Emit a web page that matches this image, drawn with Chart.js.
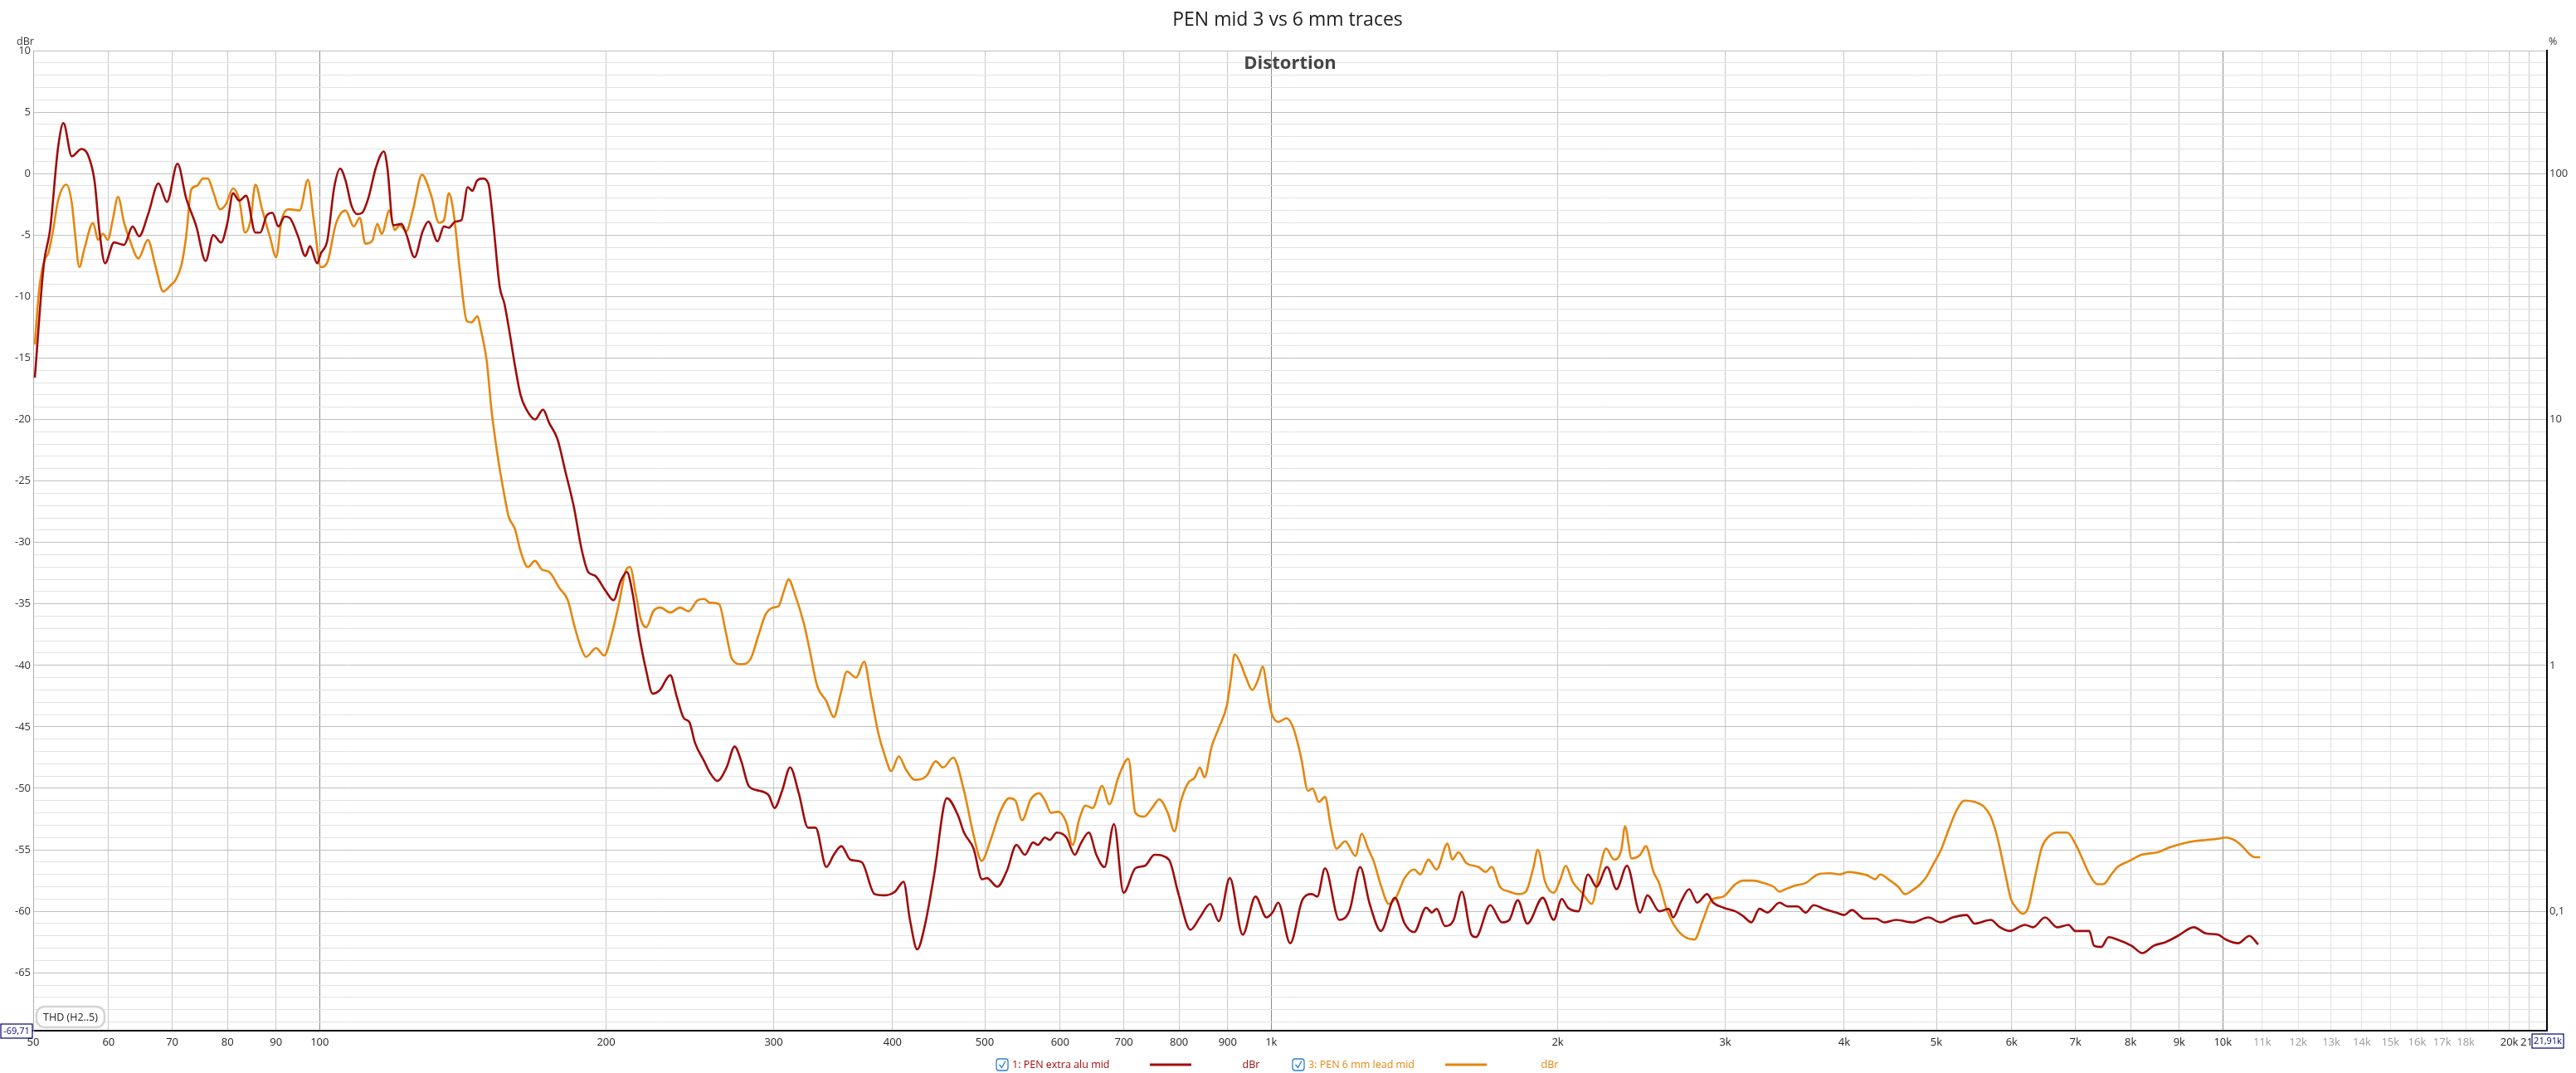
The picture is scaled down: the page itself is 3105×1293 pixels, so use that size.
<!DOCTYPE html>
<html>
<head>
<meta charset="utf-8">
<title>PEN mid 3 vs 6 mm traces</title>
<script src="https://cdn.jsdelivr.net/npm/chart.js@4.4.1/dist/chart.umd.min.js"></script>
<style>
  html, body { margin: 0; padding: 0; background: #fff; }
  #wrap { width: 3105px; height: 1293px; position: relative; }
</style>
</head>
<body>
<div id="wrap"><canvas id="chart" width="3105" height="1293"></canvas></div>
<script>
// series 1: PEN extra alu mid (dBr)
const freqs1 = [50.2,51.3,52.1,53.1,53.8,54.9,56.2,57.1,58.0,58.7,59.5,60.8,62.3,63.6,64.6,66.1,67.7,69.1,70.9,72.4,
  74.2,75.9,77.3,78.8,80.0,81.1,82.3,83.7,85.6,86.6,88.0,89.2,90.5,91.9,93.0,94.9,96.6,97.7,99.4,100.3,
  101.9,103.6,105.1,106.5,108.0,109.5,110.8,112.5,114.6,116.8,117.8,119.5,121.9,123.3,125.8,128.3,130.1,133.0,135.1,136.7,
  138.9,140.9,143.1,144.7,146.3,148.3,150.4,152.2,154.6,156.4,158.4,160.4,162.6,164.7,168.4,171.7,174.3,177.8,181.2,185.1,
  188.3,191.5,194.7,200,203.6,207.3,210.3,213.2,216.6,220.2,223.9,227.8,233.6,237.2,241.4,244.6,248.0,253.6,257.0,261.8,
  267.7,273.0,277.4,282.4,290.0,296.6,300.6,306.2,312.2,318.8,326.0,332.0,340.8,347.0,353.4,361.2,371.2,383.0,391.6,402.4,
  410.8,417.2,424.6,432.4,442.2,456.2,468.6,475.5,486.6,496.8,502.6,515.5,527.5,539.8,551.1,562.0,568.5,578.4,585.1,595.3,
  609.2,621.9,630.6,643.1,655.0,668.0,683.6,699.5,719.9,736.7,753.9,780.6,799.0,822.3,841.4,862.7,880.8,904.7,933.3,962.7,
  988.6,1003,1017,1047,1078,1103,1118,1139,1179,1209,1240,1269,1304,1349,1381,1413,1455,1475,1492,1523,
  1555,1586,1623,1641,1699,1748,1779,1816,1858,1929,1981,2020,2050,2103,2152,2197,2254,2306,2365,2442,
  2485,2558,2617,2644,2696,2749,2803,2871,2914,2986,3074,3134,3196,3259,3323,3421,3488,3574,3644,3716,
  3809,3922,3999,4077,4198,4322,4407,4537,4718,4905,5050,5200,5379,5484,5703,5832,5970,6196,6318,6505,
  6698,6883,6998,7238,7323,7453,7586,7750,8017,8233,8459,8710,8968,9324,9599,9884,10078,10378,10664,10894];
const dbr1 = [-16.6,-7.4,-4.5,2.1,4.1,1.4,2.0,1.5,-0.6,-4.7,-7.3,-5.6,-5.8,-4.3,-5.1,-3.2,-0.8,-2.3,0.8,-2.0,
  -4.3,-7.1,-5.0,-5.6,-4.0,-1.6,-2.2,-1.8,-4.8,-4.8,-3.4,-3.2,-4.3,-3.5,-3.6,-5.1,-6.7,-5.9,-7.3,-6.5,
  -5.4,-1.1,0.4,-0.6,-2.6,-3.3,-3.2,-2.0,0.5,1.8,0.5,-4.2,-4.1,-4.9,-6.8,-4.7,-3.9,-5.5,-4.3,-4.4,
  -3.9,-3.8,-1.1,-1.4,-0.6,-0.4,-0.8,-4.0,-9.2,-10.6,-13.0,-15.6,-18.0,-19.1,-20.0,-19.2,-20.3,-21.6,-24.2,-27.2,
  -30.4,-32.4,-32.7,-34.0,-34.7,-33.1,-32.4,-34.1,-37.5,-40.3,-42.3,-42.0,-40.8,-42.5,-44.3,-44.6,-46.3,-47.8,-48.7,-49.4,
  -48.3,-46.6,-47.8,-49.8,-50.2,-50.6,-51.6,-50.2,-48.3,-50.4,-53.2,-53.2,-56.4,-55.4,-54.7,-55.8,-56.0,-58.6,-58.7,-58.4,
  -57.6,-60.7,-63.1,-61.2,-57.1,-50.8,-52.2,-53.6,-54.9,-57.4,-57.3,-58.0,-56.7,-54.6,-55.4,-54.4,-54.6,-54.0,-54.2,-53.6,
  -54.0,-55.4,-54.5,-53.6,-55.4,-56.4,-52.9,-58.5,-56.5,-56.3,-55.4,-55.8,-58.6,-61.5,-60.5,-59.4,-60.8,-57.3,-61.9,-58.8,
  -60.5,-60.1,-59.3,-62.6,-59.1,-58.6,-58.8,-56.5,-60.7,-59.9,-56.4,-59.4,-61.6,-58.9,-61.0,-61.7,-59.7,-60.1,-59.8,-61.2,
  -60.7,-58.4,-61.9,-62.1,-59.5,-60.9,-60.7,-59.1,-61.0,-58.9,-60.7,-59.0,-59.7,-60.0,-57.0,-58.0,-56.4,-58.2,-56.3,-60.1,
  -58.7,-60.0,-59.8,-60.5,-59.2,-58.2,-59.3,-58.6,-59.3,-59.7,-60.0,-60.4,-60.9,-59.8,-60.1,-59.3,-59.6,-59.6,-60.1,-59.5,
  -59.8,-60.1,-60.3,-59.9,-60.6,-60.6,-60.9,-60.7,-60.9,-60.5,-60.9,-60.5,-60.3,-61.0,-60.7,-61.3,-61.6,-61.1,-61.3,-60.5,
  -61.3,-61.1,-61.6,-61.6,-62.8,-62.9,-62.1,-62.3,-62.8,-63.4,-62.8,-62.5,-62.0,-61.3,-61.8,-61.9,-62.3,-62.6,-62.0,-62.7];

// series 3: PEN 6 mm lead mid (dBr)
const freqs2 = [50.2,50.7,51.3,51.9,52.5,53.1,54.2,54.9,55.3,55.9,56.6,57.8,58.5,59.2,59.9,60.6,61.4,62.3,63.3,64.5,
  66.0,67.2,68.5,69.7,70.5,71.6,72.4,73.3,74.3,75.4,76.3,77.3,78.6,79.7,81.1,82.3,83.5,84.6,85.6,87.0,
  88.7,90.0,91.2,92.7,95.3,97.2,98.6,100.3,101.9,104.0,106.5,108.6,110.2,111.7,113.5,115.0,116.2,118.4,119.9,121.4,
  123.3,125.3,128.1,130.9,133.5,135.1,136.7,138.4,140.4,142.8,144.4,146.5,147.8,149.8,151.6,153.8,155.8,158.0,160.4,162.6,
  165.5,168.4,171.2,174.3,178.6,182.3,185.1,188.3,190.5,195.2,199.1,202.7,206.4,209.7,212.0,214.8,217.6,220.4,224.2,228.0,
  233.6,239.2,244.2,249.6,253.6,257.0,262.8,267.2,271.3,277.4,283.6,288.8,294.0,299.4,303.4,307.4,311.0,315.8,323.0,327.4,
  333.4,340.8,347.0,352.8,358.2,366.2,373.4,379.4,386.4,392.8,398.8,406.0,413.4,422.0,434.2,444.0,452.2,463.2,475.5,486.6,
  496.3,506.6,518.4,530.5,538.5,547.3,558.8,570.5,578.4,587.2,597.5,609.2,618.4,628.5,638.0,649.1,664.3,675.8,691.5,707.7,
  719.9,735.0,749.5,762.6,778.6,791.3,803.2,817.2,831.5,841.4,850.9,865.8,880.8,898.5,906.7,915.2,927.9,940.8,955.0,969.4,
  979.5,990.8,1000,1017,1038,1056,1075,1093,1105,1122,1139,1155,1171,1196,1226,1245,1264,1281,1304,1329,
  1354,1381,1413,1434,1463,1492,1532,1550,1573,1604,1651,1680,1705,1739,1779,1820,1852,1885,1906,1940,
  1981,2013,2039,2074,2127,2172,2215,2248,2293,2333,2354,2392,2442,2476,2522,2556,2605,2670,2722,2784,
  2843,2900,2986,3074,3134,3212,3291,3372,3421,3471,3556,3644,3753,3865,3960,4038,4136,4239,4313,4364,
  4471,4559,4635,4718,4810,4881,4953,5050,5149,5250,5353,5484,5610,5703,5800,5902,5989,6077,6165,6244,
  6348,6454,6568,6698,6862,6998,7135,7254,7380,7489,7637,7750,7977,8215,8540,8795,9055,9324,9599,9884,
  10078,10276,10478,10684,10809,10946];
const dbr2 = [-13.9,-9.6,-7.2,-6.4,-4.5,-2.2,-0.9,-2.4,-4.7,-7.6,-6.1,-4.0,-5.4,-4.9,-5.4,-3.8,-1.9,-4.0,-5.6,-6.9,
  -5.4,-7.5,-9.6,-9.1,-8.7,-7.4,-5.1,-1.3,-1.0,-0.4,-0.4,-1.5,-2.9,-2.5,-1.2,-2.1,-4.8,-3.8,-0.9,-2.9,
  -5.2,-6.8,-3.8,-2.9,-3.0,-0.5,-3.8,-7.6,-7.2,-4.1,-3.0,-4.3,-3.6,-5.7,-5.5,-4.1,-4.9,-3.0,-4.6,-4.2,
  -4.7,-3.0,-0.1,-1.7,-4.0,-3.8,-1.6,-3.4,-7.9,-12.0,-12.1,-11.6,-12.8,-15.2,-19.3,-22.9,-25.5,-27.9,-28.9,-30.7,
  -32.0,-31.5,-32.2,-32.4,-33.7,-34.7,-36.7,-38.6,-39.3,-38.6,-39.2,-37.5,-34.9,-32.3,-32.0,-34.1,-36.3,-36.9,-35.6,-35.3,
  -35.7,-35.3,-35.6,-34.7,-34.6,-34.9,-35.0,-37.3,-39.5,-39.9,-39.5,-37.7,-35.9,-35.3,-35.2,-34.0,-33.0,-34.2,-36.7,-38.8,
  -41.7,-42.9,-44.2,-42.3,-40.5,-41.0,-39.7,-42.3,-45.5,-47.4,-48.6,-47.4,-48.5,-49.3,-49.0,-47.8,-48.3,-47.5,-50.2,-53.8,
  -55.9,-54.3,-52.0,-50.8,-51.0,-52.6,-50.9,-50.4,-51.0,-52.0,-51.9,-52.8,-54.6,-52.5,-51.4,-51.6,-49.8,-51.3,-49.0,-47.6,
  -52.0,-52.3,-51.6,-50.9,-52.0,-53.5,-51.1,-49.6,-49.1,-48.3,-49.1,-46.6,-45.1,-43.2,-41.2,-39.1,-39.8,-41.0,-42.0,-41.1,
  -40.1,-42.1,-43.8,-44.6,-44.3,-45.2,-47.5,-50.2,-50.0,-51.1,-50.7,-53.1,-54.9,-54.3,-55.5,-53.7,-54.9,-55.9,-57.9,-59.4,
  -58.8,-57.3,-56.6,-57.0,-55.8,-56.6,-54.5,-55.8,-55.2,-56.1,-56.4,-56.8,-56.4,-58.0,-58.4,-58.6,-58.4,-56.5,-55.0,-57.6,
  -58.5,-57.4,-56.3,-57.6,-58.6,-59.4,-56.5,-54.9,-55.8,-55.0,-53.1,-55.7,-55.4,-54.7,-56.8,-57.7,-59.9,-61.5,-62.1,-62.3,
  -60.7,-59.1,-58.8,-57.8,-57.5,-57.5,-57.7,-58.0,-58.4,-58.2,-57.9,-57.7,-57.0,-56.9,-57.0,-56.8,-56.9,-57.1,-57.4,-57.0,
  -57.5,-58.0,-58.6,-58.3,-57.8,-57.2,-56.3,-55.1,-53.4,-51.8,-51.0,-51.1,-51.5,-52.3,-54.1,-56.8,-59.0,-59.8,-60.2,-59.7,
  -57.2,-54.8,-53.9,-53.6,-53.6,-54.5,-55.9,-57.1,-57.8,-57.8,-57.0,-56.4,-55.9,-55.4,-55.2,-54.8,-54.5,-54.3,-54.2,-54.1,
  -54.0,-54.2,-54.7,-55.4,-55.6,-55.6];

// axis ticks
const xTicks = [50,60,70,80,90,100,200,300,400,500,600,700,800,900,1000,2000,3000,4000,5000,6000,7000,8000,9000,
  10000,11000,12000,13000,14000,15000,16000,17000,18000,19000,20000,21000];
const yMin = -69.71, yMax = 10;
const pctTicks = [0.1, 1, 10, 100];

const red = '#a00c0c';
const orange = '#e5860f';

function toPoints(xs, ys) {
  let pts = [];
  for (let i = 0; i < xs.length; i++) pts.push({x: xs[i], y: ys[i]});
  return pts;
}

function freqLabel(v) {
  if (v === 19000) return '';
  if (v >= 1000) return (v / 1000) + 'k';
  return '' + v;
}

const font = '"Open Sans", "Noto Sans", sans-serif';

const overlay = {
  id: 'overlay',
  afterDraw(chart) {
    const ctx = chart.ctx;
    const a = chart.chartArea;
    ctx.save();
    ctx.textBaseline = 'middle';

    // titles
    ctx.fillStyle = '#1e1e1e';
    ctx.font = '23px ' + font;
    ctx.textAlign = 'center';
    ctx.fillText('PEN mid 3 vs 6 mm traces', 1552, 24);
    ctx.fillStyle = '#444';
    ctx.font = 'bold 22px ' + font;
    ctx.fillText('Distortion', 1555, 77);

    // units
    ctx.fillStyle = '#333';
    ctx.font = '12.5px ' + font;
    ctx.textAlign = 'left';
    ctx.fillText('dBr', 20, 50);
    ctx.fillText('%', a.right + 2, 50);

    // THD box
    ctx.strokeStyle = '#d4d4d4';
    ctx.lineWidth = 2.5;
    ctx.beginPath();
    ctx.roundRect(a.left + 4, a.bottom - 29, 82, 25, 10);
    ctx.fillStyle = '#fff';
    ctx.fill();
    ctx.stroke();
    ctx.fillStyle = '#222';
    ctx.font = '12.5px ' + font;
    ctx.textAlign = 'center';
    ctx.fillText('THD (H2..5)', a.left + 45, a.bottom - 16);

    // cursor value boxes
    ctx.lineWidth = 1.2;
    ctx.strokeStyle = '#00007a';
    ctx.fillStyle = '#fff';
    ctx.fillRect(1, a.bottom - 8, 38, 17);
    ctx.strokeRect(1, a.bottom - 8, 38, 17);
    ctx.fillRect(a.right - 18, a.bottom + 4, 38, 17);
    ctx.strokeRect(a.right - 18, a.bottom + 4, 38, 17);
    ctx.fillStyle = '#00007a';
    ctx.font = '11px ' + font;
    ctx.fillText('-69,71', 20, a.bottom + 1);
    ctx.fillText('21,91k', a.right + 1, a.bottom + 13);

    // legend
    const ly = 1283;
    const items = [
      {x: 1201, name: '1: PEN extra alu mid', color: red, lineX: 1386, unitX: 1508},
      {x: 1558, name: '3: PEN 6 mm lead mid', color: orange, lineX: 1742, unitX: 1868}
    ];
    items.forEach(it => {
      ctx.strokeStyle = '#2a7fd4';
      ctx.lineWidth = 1.3;
      ctx.beginPath();
      ctx.roundRect(it.x, ly - 7, 14, 14, 3);
      ctx.stroke();
      ctx.beginPath();
      ctx.moveTo(it.x + 3.5, ly);
      ctx.lineTo(it.x + 6.5, ly + 3.5);
      ctx.lineTo(it.x + 11, ly - 4.5);
      ctx.stroke();
      ctx.fillStyle = it.color;
      ctx.font = '12.5px ' + font;
      ctx.textAlign = 'left';
      ctx.fillText(it.name, it.x + 19, ly);
      ctx.strokeStyle = it.color;
      ctx.lineWidth = 3;
      ctx.beginPath();
      ctx.moveTo(it.lineX, ly);
      ctx.lineTo(it.lineX + 50, ly);
      ctx.stroke();
      ctx.textAlign = 'center';
      ctx.fillText('dBr', it.unitX, ly);
    });
    ctx.restore();
  }
};

new Chart(document.getElementById('chart'), {
  type: 'line',
  data: {
    datasets: [
      {
        label: '1: PEN extra alu mid',
        data: toPoints(freqs1, dbr1),
        borderColor: red,
        borderWidth: 2.6,
        pointRadius: 0,
        cubicInterpolationMode: 'monotone',
        yAxisID: 'y'
      },
      {
        label: '3: PEN 6 mm lead mid',
        data: toPoints(freqs2, dbr2),
        borderColor: orange,
        borderWidth: 2.6,
        pointRadius: 0,
        cubicInterpolationMode: 'monotone',
        yAxisID: 'y'
      }
    ]
  },
  options: {
    responsive: false,
    animation: false,
    devicePixelRatio: 1,
    layout: {padding: {top: 61, left: 0, right: 0, bottom: 0}},
    plugins: {legend: {display: false}, title: {display: false}, tooltip: {enabled: false}},
    scales: {
      x: {
        type: 'logarithmic',
        min: 50,
        max: 21910,
        afterBuildTicks: s => { s.ticks = xTicks.map(v => ({value: v})); },
        afterFit: s => { s.height = 51; },
        ticks: {
          autoSkip: false,
          maxRotation: 0,
          padding: 6,
          font: {family: font, size: 13},
          color: c => {
            const v = c.tick ? c.tick.value : 0;
            return (v > 10000 && v < 20000) ? '#9a9a9a' : '#222';
          },
          callback: v => freqLabel(v)
        },
        grid: {
          drawTicks: false,
          lineWidth: 1,
          color: c => {
            const v = c.tick ? c.tick.value : 0;
            if (v === 100 || v === 1000 || v === 10000) return '#8c8c8c';
            if (v > 10000 && v < 20000) return '#e2e2e2';
            return '#c8c8c8';
          }
        },
        border: {color: '#000', width: 2}
      },
      y: {
        type: 'linear',
        min: yMin,
        max: yMax,
        afterBuildTicks: s => {
          let t = [];
          for (let v = -69; v <= 10; v++) t.push({value: v});
          s.ticks = t;
        },
        afterFit: s => { s.width = 40; },
        ticks: {
          autoSkip: false,
          padding: 3,
          font: {family: font, size: 13},
          color: '#333',
          callback: v => (v % 5 === 0 ? '' + v : '')
        },
        grid: {
          drawTicks: false,
          color: c => (c.tick && c.tick.value % 5 === 0) ? '#bfbfbf' : '#e2e2e2'
        },
        border: {color: '#b0b0b0', width: 1}
      },
      y2: {
        type: 'logarithmic',
        position: 'right',
        min: 100 * Math.pow(10, yMin / 20),
        max: 100 * Math.pow(10, yMax / 20),
        afterBuildTicks: s => { s.ticks = pctTicks.map(v => ({value: v})); },
        afterFit: s => { s.width = 35; },
        ticks: {
          autoSkip: false,
          padding: 3,
          font: {family: font, size: 13},
          color: '#333',
          callback: v => ('' + v).replace('.', ',')
        },
        grid: {display: false, drawTicks: false},
        border: {color: '#000', width: 2}
      }
    }
  },
  plugins: [overlay]
});
</script>
</body>
</html>
